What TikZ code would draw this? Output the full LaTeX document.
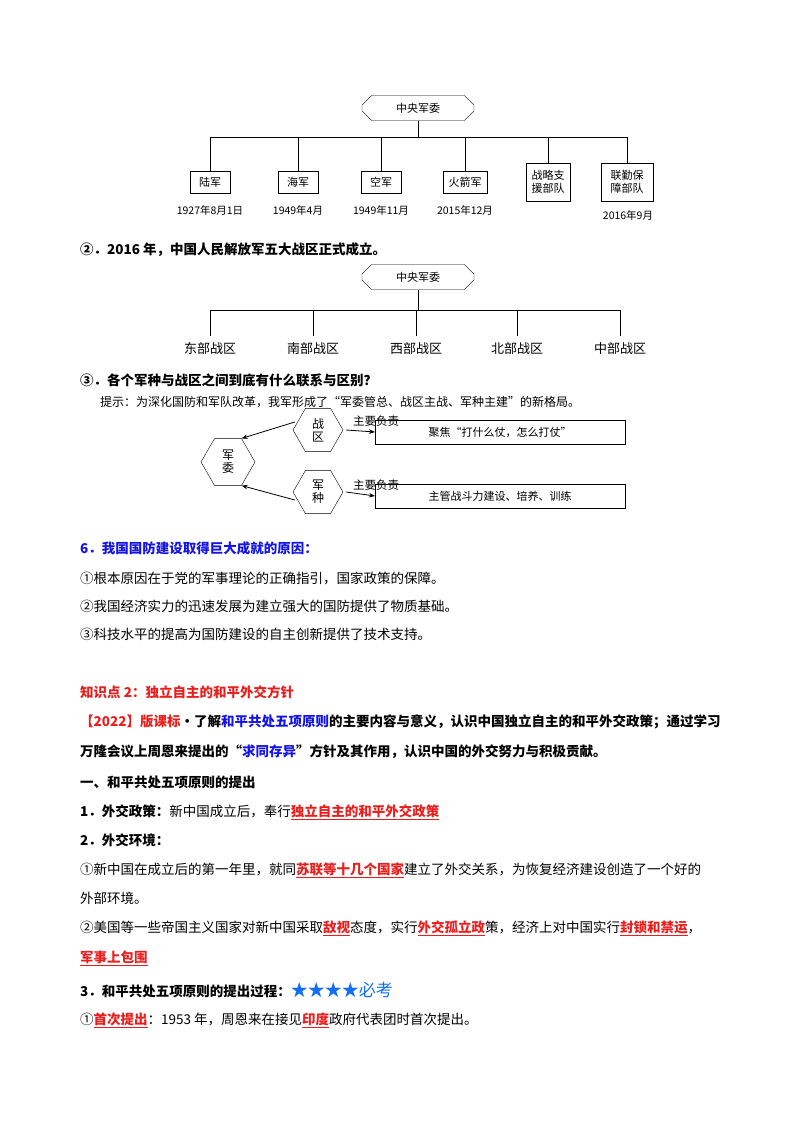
\documentclass[tikz,border=0pt]{standalone}
\usepackage{fontspec}
\setmainfont{Noto Sans CJK SC}
\usetikzlibrary{shapes.geometric,shapes.misc,arrows.meta}
\definecolor{myred}{RGB}{235,30,30}
\definecolor{myblue}{RGB}{20,20,230}
\definecolor{starblue}{RGB}{20,110,240}
\newcommand{\redu}[1]{{\color{myred}\bfseries\underline{#1}}}
\tikzset{
  hexw/.style={regular polygon,regular polygon sides=6,draw,inner sep=0pt},
  lhex/.style={chamfered rectangle,chamfered rectangle xsep=14pt,draw,minimum width=112pt,minimum height=25pt,inner sep=1pt,font=\fontsize{11}{12}\selectfont},
  bx/.style={draw,thick,inner sep=3pt,font=\fontsize{11}{13}\selectfont,align=center},
  lab/.style={font=\fontsize{10.5}{12}\selectfont},
  txt/.style={anchor=west,inner sep=0pt,font=\fontsize{13.5}{15}\selectfont},
  ln/.style={thick},
  arr/.style={thick,-{Stealth[length=6pt]}}
}
\begin{document}
\begin{tikzpicture}[x=1pt,y=-1pt]
\useasboundingbox (0,0) rectangle (800,1132);
% diagram 1
\node[lhex] (h1) at (418,108) {中央军委};
\coordinate (j1) at (418,137);
\coordinate (l1) at (210,137); \coordinate (r1) at (627,137);
\node[bx,minimum width=40pt,minimum height=22pt] (b1) at (210,182) {陆军};
\node[bx,minimum width=40pt,minimum height=22pt] (b2) at (298,182) {海军};
\node[bx,minimum width=40pt,minimum height=22pt] (b3) at (381,182) {空军};
\node[bx,minimum width=44pt,minimum height=22pt] (b4) at (465,182) {火箭军};
\node[bx,minimum width=44pt,minimum height=38pt,inner sep=2pt] (b5) at (548,182) {战略支\\援部队};
\node[bx,minimum width=52pt,minimum height=38pt,inner sep=2pt] (b6) at (627,182) {联勤保\\障部队};
\draw[ln] (h1.south) -- (j1);
\draw[ln] (l1) -- (r1);
\foreach \b in {b1,b2,b3,b4,b5,b6} \draw[ln] (l1 -| \b.north) -- (\b.north);
\node[lab] (d1) at (210,210) {1927年8月1日};
\node[lab] (d2) at (298,210) {1949年4月};
\node[lab] (d3) at (381,210) {1949年11月};
\node[lab] (d4) at (465,210) {2015年12月};
\node[lab] (d6) at (628,215) {2016年9月};
\node[txt,font=\fontsize{13.5}{15}\selectfont\bfseries] (t0) at (80,250) {②．2016 年，中国人民解放军五大战区正式成立。};
% diagram 2
\node[lhex] (h2) at (418,277) {中央军委};
\coordinate (j2) at (418,310);
\coordinate (l2) at (210,310); \coordinate (r2) at (620,310);
\draw[ln] (h2.south) -- (j2);
\draw[ln] (l2) -- (r2);
\foreach \x/\n/\t in {210/z1/东部战区,313/z2/南部战区,416/z3/西部战区,517/z4/北部战区,620/z5/中部战区}{
  \node[font=\fontsize{13}{14}\selectfont] (\n) at (\x,349) {\t};
  \draw[ln] (\x,310) -- (\x,336);
}
\node[txt,font=\fontsize{13.5}{15}\selectfont\bfseries] (t1) at (80,380) {③．各个军种与战区之间到底有什么联系与区别？};
\node[txt,font=\fontsize{12}{14}\selectfont] (t2) at (100,402) {提示：为深化国防和军队改革，我军形成了“军委管总、战区主战、军种主建”的新格局。};
% diagram 3
\node[hexw,minimum size=54pt,font=\fontsize{12}{13}\selectfont,align=center] (jw) at (228,462) {军\\委};
\node[hexw,minimum size=50pt,font=\fontsize{12}{13}\selectfont,align=center] (zq) at (318,430) {战\\区};
\node[hexw,minimum size=50pt,font=\fontsize{12}{13}\selectfont,align=center] (jz) at (318,492) {军\\种};
\draw[arr] (zq.west) ++(2,-8) -- (jw.corner 1);
\draw[arr] (jz.west) ++(2,8) -- (jw.corner 5);
\node[bx,minimum width=250pt,minimum height=24pt,anchor=west,thin] (p1) at (375,432) {聚焦“打什么仗，怎么打仗”};
\node[bx,minimum width=250pt,minimum height=24pt,anchor=west,thin] (p2) at (375,496) {主管战斗力建设、培养、训练};
\draw[arr] (zq.east) ++(3,0) coordinate (zqe) -- (p1.west);
\draw[arr] (jz.east) ++(3,0) coordinate (jze) -- (p2.west);
\node[font=\fontsize{11.5}{13}\selectfont,anchor=south] (m1) at (376,430) {主要负责};
\node[font=\fontsize{11.5}{13}\selectfont,anchor=south] (m2) at (376,494) {主要负责};
% text
\node[txt,font=\fontsize{13.5}{15}\selectfont\bfseries,text=myblue] (s6) at (80,548) {6．我国国防建设取得巨大成就的原因：};
\node[txt] (s61) at (80,578) {①根本原因在于党的军事理论的正确指引，国家政策的保障。};
\node[txt] (s62) at (80,606) {②我国经济实力的迅速发展为建立强大的国防提供了物质基础。};
\node[txt] (s63) at (80,634) {③科技水平的提高为国防建设的自主创新提供了技术支持。};
\node[txt,font=\fontsize{13.5}{15}\selectfont\bfseries,text=myred] (k2) at (80,692) {知识点 2：独立自主的和平外交方针};
\node[txt,font=\fontsize{13.5}{15}\selectfont\bfseries] (k3) at (80,722) {{\color{myred}【2022】版课标}·了解{\color{myblue}和平共处五项原则}的主要内容与意义，认识中国独立自主的和平外交政策；通过学习};
\node[txt,font=\fontsize{13.5}{15}\selectfont\bfseries] (k4) at (80,752) {万隆会议上周恩来提出的“{\color{myblue}求同存异}”方针及其作用，认识中国的外交努力与积极贡献。};
\node[txt,font=\fontsize{13.5}{15}\selectfont\bfseries] (k5) at (80,782) {一、和平共处五项原则的提出};
\node[txt] (k6) at (80,812) {\textbf{1．外交政策：}新中国成立后，奉行\redu{独立自主的和平外交政策}};
\node[txt] (k7) at (80,840) {\textbf{2．外交环境：}};
\node[txt] (k8) at (80,870) {①新中国在成立后的第一年里，就同\redu{苏联等十几个国家}建立了外交关系，为恢复经济建设创造了一个好的};
\node[txt] (k9) at (80,898) {外部环境。};
\node[txt] (k10) at (80,928) {②美国等一些帝国主义国家对新中国采取\redu{敌视}态度，实行\redu{外交孤立政}策，经济上对中国实行\redu{封锁和禁运}，};
\node[txt] (k11) at (80,958) {\redu{军事上包围}};
\node[txt] (k12) at (80,990) {\textbf{3．和平共处五项原则的提出过程：}{\color{starblue}\fontsize{17}{18}\selectfont ★★★★必考}};
\node[txt] (k13) at (80,1020) {①\redu{首次提出}：1953 年，周恩来在接见\redu{印度}政府代表团时首次提出。};
\end{tikzpicture}
\end{document}
